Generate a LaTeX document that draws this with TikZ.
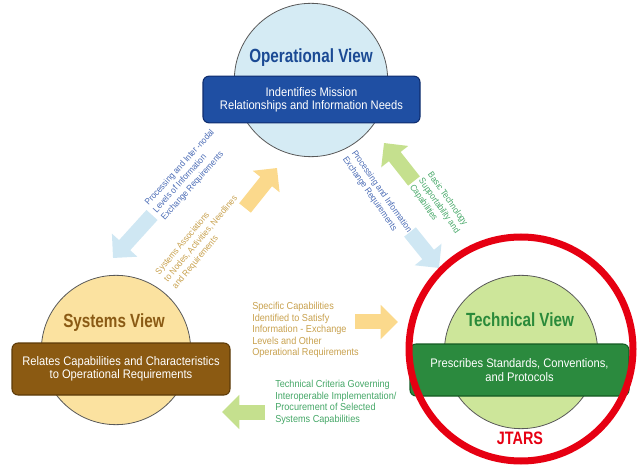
\documentclass[tikz,border=0pt]{standalone}
\usepackage{fontspec}
\setmainfont{Liberation Sans}
\newfontfamily\narrowfont{Liberation Sans}[FakeStretch=0.9]
\newfontfamily\condfont{Liberation Sans}[FakeStretch=0.8]
\usetikzlibrary{arrows.meta}

\definecolor{opfill}{HTML}{D5EBF4}
\definecolor{opbox}{HTML}{1F4FA3}
\definecolor{opedge}{HTML}{0F2D6E}
\definecolor{optitle}{HTML}{1B4A94}
\definecolor{syfill}{HTML}{FBE2A0}
\definecolor{sybox}{HTML}{8B5A12}
\definecolor{syedge}{HTML}{5C3A08}
\definecolor{sytitle}{HTML}{8A5A14}
\definecolor{tefill}{HTML}{CDE69A}
\definecolor{tebox}{HTML}{2B8A3E}
\definecolor{teedge}{HTML}{145A22}
\definecolor{tetitle}{HTML}{2A8A3A}
\definecolor{ringred}{HTML}{E60012}
\definecolor{bluetxt}{HTML}{4A6BB5}
\definecolor{tantxt}{HTML}{C8A14E}
\definecolor{greentxt}{HTML}{45A767}
\definecolor{bluearr}{HTML}{CFE7F3}
\definecolor{yellowarr}{HTML}{FBD98C}
\definecolor{greenarr}{HTML}{C5E08E}

\tikzset{
  viewcircle/.style={circle,draw=black!65,line width=0.6pt,inner sep=0pt,minimum size=115pt},
  viewbox/.style={rounded corners=4.5pt,line width=0.8pt,text=white,align=center,inner sep=0pt,
    font=\narrowfont\fontsize{9.3}{10}\selectfont},
  viewtitle/.style={font=\condfont\bfseries\fontsize{14.3}{16}\selectfont,inner sep=0pt},
  flowtext/.style={align=left,inner sep=0pt,font=\narrowfont\fontsize{7.6}{8.6}\selectfont},
  slanttext/.style={align=left,inner sep=0pt,font=\narrowfont\fontsize{6.7}{8.2}\selectfont},
  blockarrow/.style={line width=11.25pt,-{Triangle[width=25pt,length=13pt]}}
}

\begin{document}
\begin{tikzpicture}[x=0.75pt,y=0.75pt,yscale=-1,xscale=1]
\useasboundingbox (0,0) rectangle (639,470);

%Arrow ends
\coordinate (opsyA) at (152,215);
\coordinate (opsyB) at (113,258);
\coordinate (syopA) at (245,208);
\coordinate (syopB) at (277,168);
\coordinate (opteA) at (410,232);
\coordinate (opteB) at (439,268);
\coordinate (teopA) at (414,181);
\coordinate (teopB) at (384,143);
\coordinate (syteA) at (355,322);
\coordinate (syteB) at (398,322);
\coordinate (tesyA) at (265,412);
\coordinate (tesyB) at (222,412);

%Block Arrows
\draw [blockarrow,bluearr] (opsyA) -- (opsyB);
\draw [blockarrow,yellowarr] (syopA) -- (syopB);
\draw [blockarrow,bluearr] (opteA) -- (opteB);
\draw [blockarrow,greenarr] (teopA) -- (teopB);
\draw [blockarrow,yellowarr] (syteA) -- (syteB);
\draw [blockarrow,greenarr] (tesyA) -- (tesyB);

%Shape: Circle
\node [viewcircle,fill=opfill] (opcircle) at (311,80) {};
%Shape: Circle
\node [viewcircle,fill=syfill,minimum size=112pt] (sycircle) at (116,350) {};
%Shape: Circle
\node [viewcircle,fill=tefill] (tecircle) at (521,352) {};

%Shape: Rounded Rect
\node [viewbox,fill=opbox,draw=opedge,minimum width=162.75pt,minimum height=35pt] (opbox) at (311.5,99.5)
  {Indentifies Mission\\Relationships and Information Needs};
%Shape: Rounded Rect
\node [viewbox,fill=sybox,draw=syedge,minimum width=163.5pt,minimum height=39pt] (sybox) at (121,369)
  {Relates Capabilities and Characteristics\\to Operational Requirements};
%Shape: Rounded Rect
\node [viewbox,fill=tebox,draw=teedge,minimum width=164.25pt,minimum height=39pt] (tebox) at (519.5,370)
  {Prescribes Standards, Conventions,\\and Protocols};

% Text Node
\node [viewtitle,text=optitle] (optitle) at (311,58) {Operational View};
% Text Node
\node [viewtitle,text=sytitle] (sytitle) at (114,323) {Systems View};
% Text Node
\node [viewtitle,text=tetitle] (tetitle) at (520,320) {Technical View};

%Shape: Circle
\node [circle,draw=ringred,line width=5.25pt,inner sep=0pt,minimum size=168pt] (ring) at (521,349) {};
% Text Node
\node [viewtitle,text=ringred,font=\condfont\bfseries\fontsize{13.5}{15}\selectfont] (jtars) at (520,438) {JTARS};

% Text Node
\node [slanttext,text=bluetxt,rotate=48] (opsytext) at (188,175)
  {Processing and Inter -nodal\\Levels of Information\\Exchange Requirements};
% Text Node
\node [slanttext,text=tantxt,rotate=50] (syoptext) at (201,239)
  {Systems Associations\\to Nodes, Activities, Needlines\\and Requirements};
% Text Node
\node [slanttext,text=bluetxt,rotate=-55] (optetext) at (377,195)
  {Processing and Information\\Exchange Requirements};
% Text Node
\node [slanttext,text=greentxt,rotate=-55] (teoptext) at (439,206)
  {Basic Technology\\Supportability and\\Capabilities};
% Text Node
\node [flowtext,text=tantxt,anchor=north west] (sytetext) at (252,302)
  {Specific Capabilities\\Identified to Satisfy\\Information - Exchange\\Levels and Other\\Operational Requirements};
% Text Node
\node [flowtext,text=greentxt,anchor=north west] (tesytext) at (275,380)
  {Technical Criteria Governing\\Interoperable Implementation/\\Procurement of Selected\\Systems Capabilities};

\end{tikzpicture}
\end{document}
